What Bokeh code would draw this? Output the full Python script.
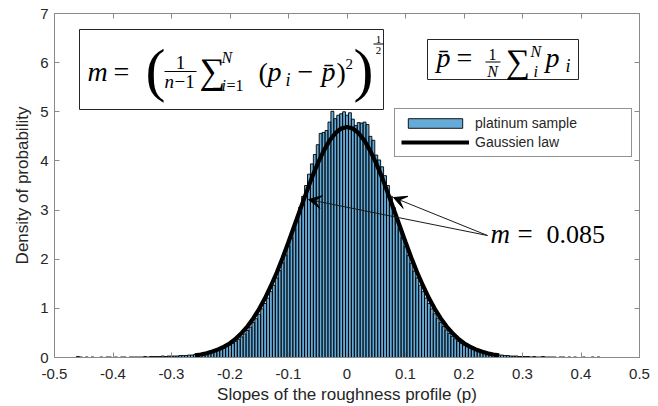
import numpy as np
from bokeh.plotting import figure
from bokeh.models import (Label, BoxAnnotation, Arrow, VeeHead, Legend, LegendItem,
                          LinearAxis, FixedTicker, CustomJSTickFormatter, Range1d, ColumnDataSource)
from bokeh.embed import file_html
from bokeh.resources import INLINE

# ---------------- data ----------------
bin_start = -0.46
bin_width = 0.005
density = [
    # -0.460 .. -0.305
    0.02, 0.01, 0.00, 0.01, 0.00, 0.01, 0.00, 0.00, 0.01, 0.00, 0.01, 0.01, 0.00, 0.01, 0.00, 0.01,
    0.01, 0.00, 0.01, 0.01, 0.01, 0.01, 0.01, 0.02, 0.01, 0.02, 0.02, 0.02, 0.02, 0.03, 0.02, 0.03,
    # -0.300 .. -0.080
    0.03, 0.03, 0.03, 0.04, 0.04, 0.04, 0.05, 0.05, 0.06, 0.06, 0.07, 0.08, 0.09, 0.10, 0.11, 0.13,
    0.15, 0.17, 0.19, 0.22, 0.25, 0.29, 0.33, 0.37, 0.42, 0.48, 0.55, 0.62, 0.71, 0.79, 0.88, 0.99,
    1.10, 1.21, 1.34, 1.47, 1.62, 1.77, 1.93, 2.09, 2.27, 2.45, 2.65, 2.85, 3.06,
    # -0.075 .. 0.075
    3.28, 3.50, 3.73, 3.94, 4.13, 4.33, 4.56, 4.58, 4.62, 4.79, 5.01, 4.86, 4.93, 4.96, 5.00, 4.93,
    4.98, 4.85, 4.72, 4.78, 4.77, 4.79, 4.74, 4.50, 4.42, 4.12, 4.02, 3.88, 3.70, 3.50, 3.28,
    # 0.080 .. 0.300
    3.05, 2.84, 2.64, 2.44, 2.26, 2.08, 1.92, 1.76, 1.62, 1.47, 1.34, 1.21, 1.10, 0.99, 0.89, 0.80,
    0.71, 0.63, 0.56, 0.49, 0.43, 0.38, 0.33, 0.29, 0.25, 0.22, 0.19, 0.17, 0.15, 0.13, 0.11, 0.10,
    0.09, 0.08, 0.07, 0.06, 0.05, 0.05, 0.04, 0.04, 0.03, 0.03, 0.03, 0.02, 0.02,
    # 0.305 .. 0.430
    0.02, 0.02, 0.01, 0.02, 0.01, 0.01, 0.02, 0.01, 0.01, 0.01, 0.01, 0.00, 0.01, 0.01, 0.00, 0.01,
    0.00, 0.01, 0.00, 0.00, 0.01, 0.00, 0.00, 0.01, 0.00, 0.01,
]
gauss_x = [-0.26, -0.25, -0.24, -0.23, -0.22, -0.21, -0.20, -0.19, -0.18, -0.17, -0.16, -0.15, -0.14,
           -0.13, -0.12, -0.11, -0.10, -0.09, -0.08, -0.07, -0.06, -0.05, -0.04, -0.03, -0.02, -0.01,
           0.00, 0.01, 0.02, 0.03, 0.04, 0.05, 0.06, 0.07, 0.08, 0.09, 0.10, 0.11, 0.12, 0.13,
           0.14, 0.15, 0.16, 0.17, 0.18, 0.19, 0.20, 0.21, 0.22, 0.23, 0.24, 0.25, 0.26]
gauss_y = [0.044, 0.062, 0.087, 0.121, 0.165, 0.222, 0.290, 0.386, 0.500, 0.635, 0.800, 0.990, 1.210,
           1.460, 1.730, 2.030, 2.350, 2.680, 3.010, 3.340, 3.660, 3.950, 4.200, 4.410, 4.565, 4.660,
           4.690, 4.660, 4.565, 4.410, 4.200, 3.950, 3.660, 3.340, 3.010, 2.680, 2.350, 2.030, 1.730,
           1.460, 1.210, 0.990, 0.800, 0.635, 0.500, 0.386, 0.290, 0.222, 0.165, 0.121, 0.087, 0.062,
           0.044]
x_ticks = [-0.5, -0.4, -0.3, -0.2, -0.1, 0.0, 0.1, 0.2, 0.3, 0.4, 0.5]
y_ticks = [0, 1, 2, 3, 4, 5, 6, 7]
series_names = ["platinum sample", "Gaussien law"]
x_label = "Slopes of the roughness profile (p)"
y_label = "Density of probability"

# ---------------- figure ----------------
W, H = 658, 406
FL, FR, FT, FB = 54, 639, 13, 357   # frame in pixels
p = figure(width=W, height=H, x_range=Range1d(-0.5, 0.5), y_range=Range1d(0, 7),
           output_backend="svg", toolbar_location=None,
           min_border_left=FL, min_border_right=W - FR, min_border_top=FT, min_border_bottom=H - FB)
p.background_fill_color = "white"
p.border_fill_color = "white"
p.outline_line_color = "#8a8a8a"
p.xgrid.visible = False
p.ygrid.visible = False

def X(px):
    return -0.5 + (px - FL) / (FR - FL)

def Y(py):
    return (FB - py) * 7.0 / (FB - FT)

centers = bin_start + bin_width * np.arange(len(density))
src = ColumnDataSource(dict(x=centers, top=density))
bars = p.vbar(x="x", top="top", width=bin_width, bottom=0, source=src,
              fill_color="#0072BD", fill_alpha=0.6, line_color="black", line_width=0.9)
gline = p.line(gauss_x, gauss_y, line_color="black", line_width=4.2)

AX_COL = "#8a8a8a"
TXT_COL = "#262626"
fmt_x = CustomJSTickFormatter(code="var s = tick.toFixed(1); return s == '0.0' || s == '-0.0' ? '0' : s;")
blank = CustomJSTickFormatter(code="return '';")

def style_axis(ax):
    ax.axis_line_color = AX_COL
    ax.major_tick_line_color = AX_COL
    ax.major_tick_in = 5
    ax.major_tick_out = 0
    ax.minor_tick_line_color = None
    ax.major_label_text_font = "Liberation Sans"
    ax.major_label_text_font_size = "15px"
    ax.major_label_text_color = TXT_COL
    ax.axis_label_text_font = "Liberation Sans"
    ax.axis_label_text_font_size = "17px"
    ax.axis_label_text_font_style = "normal"
    ax.axis_label_text_color = TXT_COL

xa = p.xaxis[0]
xa.ticker = FixedTicker(ticks=x_ticks)
xa.formatter = fmt_x
style_axis(xa)
xa.major_label_standoff = 11
xa.axis_label = x_label
xa.axis_label_standoff = 3

ya = p.yaxis[0]
ya.ticker = FixedTicker(ticks=y_ticks)
style_axis(ya)
ya.major_label_standoff = 6
ya.axis_label = y_label
ya.axis_label_standoff = 5

top_ax = LinearAxis(ticker=FixedTicker(ticks=x_ticks), formatter=blank)
style_axis(top_ax)
top_ax.major_label_standoff = 0
p.add_layout(top_ax, "above")
right_ax = LinearAxis(ticker=FixedTicker(ticks=y_ticks), formatter=blank)
style_axis(right_ax)
right_ax.major_label_standoff = 0
p.add_layout(right_ax, "right")

# ---------------- legend ----------------
legend = Legend(items=[LegendItem(label=series_names[0], renderers=[bars]),
                       LegendItem(label=series_names[1], renderers=[gline])],
                location=(394 - FL, FB - 157), orientation="vertical")
legend.border_line_color = "#262626"
legend.border_line_width = 1
legend.background_fill_color = "white"
legend.background_fill_alpha = 1
legend.label_text_font = "Liberation Sans"
legend.label_text_font_size = "14px"
legend.label_text_color = TXT_COL
legend.glyph_width = 68
legend.glyph_height = 12
legend.label_height = 14
legend.label_width = 150
legend.label_standoff = 6
legend.spacing = 3
legend.padding = 6
legend.margin = 0
p.add_layout(legend, "center")

# ---------------- formula boxes ----------------
for (l, t, r, b) in [(79, 29, 383, 109), (427, 39, 578, 79)]:
    p.add_layout(BoxAnnotation(left=X(l), right=X(r), top=Y(t), bottom=Y(b),
                               fill_color="white", fill_alpha=1.0,
                               line_color="#262626", line_width=1, line_alpha=1.0))

SERIF = "Liberation Serif"

def T(text, px, py, size, italic=False, align="left"):
    # py is the wanted alphabetic baseline in pixels
    p.add_layout(Label(x=X(px), y=Y(py - 0.28 * size), text=text, text_font=SERIF,
                       text_font_size=f"{size}px",
                       text_font_style="italic" if italic else "normal",
                       text_align=align, text_baseline="alphabetic", text_color="black"))

def bar(x0, x1, py):
    p.add_layout(BoxAnnotation(left=X(x0), right=X(x1), top=Y(py - 0.6), bottom=Y(py + 0.6),
                               fill_color="black", fill_alpha=1.0, line_color=None))

# m = ( 1/(n-1) sum_{i=1}^N (p_i - pbar)^2 )^(1/2)
T("m", 87, 79, 28, True)
T("=", 113, 79, 28)
T("(", 145, 86, 60)
T("1", 180, 67, 19, align="center")
bar(164, 196, 71)
T("n", 164, 86, 19, True)
T("\u22121", 174, 86, 19)
T("\u2211", 199, 81, 36)
T("N", 221, 61, 16, True)
T("i", 221, 89, 16, True)
T("=1", 226, 89, 16)
T("(", 258, 80, 28)
T("p", 267, 79, 28, True)
T("i", 285, 85, 18, True)
T("\u2212", 297, 79, 28)
T("p\u0304", 321, 79, 28, True)
T(")", 336, 80, 28)
T("2", 345, 68, 15)
T(")", 353, 86, 60)
T("1", 378, 42, 11, align="center")
bar(373, 383, 43.5)
T("2", 378, 53, 11, align="center")

# pbar = 1/N sum_i^N p_i
T("p\u0304", 436, 65, 28, True)
T("=", 456, 65, 28)
T("1", 492, 58, 16, align="center")
bar(485, 500, 61.5)
T("N", 492, 75, 16, True, align="center")
T("\u2211", 505, 71, 34)
T("N", 530, 55, 16, True)
T("i", 533, 75, 16, True)
T("p", 545, 65, 28, True)
T("i", 565, 71, 18, True)

# m = 0.085 with arrows
T("m", 490, 241, 27, True)
T("=", 517, 241, 27)
T("0.085", 546, 241, 26)
for (tx, ty) in [(308, 199), (393, 197)]:
    p.add_layout(Arrow(end=VeeHead(size=13, fill_color="black", line_color="black"),
                       x_start=X(487), y_start=Y(235), x_end=X(tx), y_end=Y(ty),
                       line_color="#1a1a1a", line_width=1))

open("out.html", "w").write(file_html(p, INLINE))
